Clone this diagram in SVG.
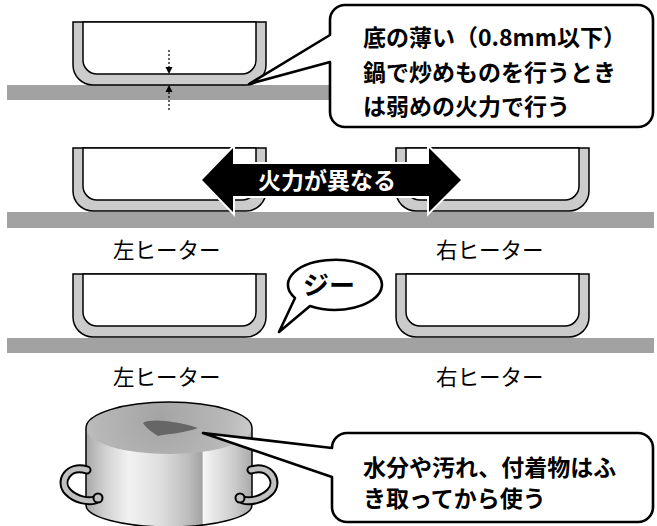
<svg xmlns="http://www.w3.org/2000/svg" width="657" height="526" viewBox="0 0 657 526">
  <style>
    .outline { fill: none; stroke: #000; stroke-width: 1.5; stroke-linejoin: round; }
    .bubble { fill: #fff; stroke: #000; stroke-width: 2.6; stroke-linejoin: round; }
    .note { font-family: "Noto Sans CJK JP", "Noto Sans", sans-serif; font-size: 23px; font-weight: 700; fill: #000; }
    .label { font-family: "Noto Sans CJK JP", "Noto Sans", sans-serif; font-size: 21.5px; font-weight: 400; fill: #000; }
    .strip { fill: #a2a2a2; }
    .dim { stroke: #000; stroke-width: 1.2; stroke-dasharray: 2 2; fill: none; }
    .handle-edge { fill: none; stroke: #000; stroke-width: 9; stroke-linecap: round; }
    .handle-core { fill: none; stroke: #c0c0c0; stroke-width: 5; stroke-linecap: round; }
  </style>
  <defs>
    <!-- pan cross-section, origin at outer top-left -->
    <g id="pan">
      <path d="M0,0 V43 A20,20 0 0 0 20,63 H173 A20,20 0 0 0 193,43 V0 Z" fill="#cbcbcb" stroke="#000" stroke-width="1.5"/>
      <path d="M10,0 V38 A14,14 0 0 0 24,52 H169 A14,14 0 0 0 183,38 V0 Z" fill="#fff" stroke="#000" stroke-width="1.5"/>
    </g>
    <linearGradient id="potBody" x1="86" y1="0" x2="252" y2="0" gradientUnits="userSpaceOnUse">
      <stop offset="0" stop-color="#a9a9a9"/>
      <stop offset="0.12" stop-color="#d2d2d2"/>
      <stop offset="0.26" stop-color="#f2f2f2"/>
      <stop offset="0.45" stop-color="#dedede"/>
      <stop offset="0.62" stop-color="#bcbcbc"/>
      <stop offset="0.7" stop-color="#a2a2a2"/>
      <stop offset="0.705" stop-color="#f6f6f6"/>
      <stop offset="0.78" stop-color="#e4e4e4"/>
      <stop offset="0.9" stop-color="#cacaca"/>
      <stop offset="1" stop-color="#a9a9a9"/>
    </linearGradient>
    <radialGradient id="potTop" cx="160" cy="418" r="95" gradientUnits="userSpaceOnUse">
      <stop offset="0" stop-color="#a4a4a4"/>
      <stop offset="0.7" stop-color="#b8b8b8"/>
      <stop offset="1" stop-color="#cdcdcd"/>
    </radialGradient>
    <clipPath id="potClip">
      <path d="M86,428 A83,26 0 0 1 252,428 V505 A83,22 0 0 1 86,505 Z"/>
    </clipPath>
  </defs>

  <!-- hob surfaces -->
  <g id="hobs">
    <rect class="strip" x="7" y="85" width="647" height="15"/>
    <rect class="strip" x="7" y="212" width="647" height="16"/>
    <rect class="strip" x="7" y="338" width="647" height="15"/>
  </g>

  <!-- thin pan with thickness marks -->
  <g id="pan-thin">
    <use href="#pan" x="73" y="22"/>
    <line class="dim" x1="169" y1="50" x2="169" y2="67"/>
    <path d="M165.5,67 L172.5,67 L169,74 Z" fill="#000"/>
    <line class="dim" x1="169" y1="92" x2="169" y2="110"/>
    <path d="M165.5,92 L172.5,92 L169,85 Z" fill="#000"/>
  </g>

  <g id="pan-left-1"><use href="#pan" x="73" y="148"/></g>
  <g id="pan-right-1"><use href="#pan" x="396" y="148"/></g>
  <g id="pan-left-2"><use href="#pan" x="73" y="274"/></g>
  <g id="pan-right-2"><use href="#pan" x="396" y="274"/></g>

  <!-- heater labels -->
  <g id="labels">
    <text class="label" x="113" y="258">左ヒーター</text>
    <text class="label" x="436" y="258">右ヒーター</text>
    <text class="label" x="113" y="385">左ヒーター</text>
    <text class="label" x="436" y="385">右ヒーター</text>
  </g>

  <!-- double arrow between heaters -->
  <g id="power-arrow">
    <path d="M202,180 L233,148 V164 H429 V148 L461,180 L429,212 V196 H233 V212 Z" fill="#000" stroke="#fff" stroke-width="4" paint-order="stroke"/>
    <text class="note" x="258" y="189" style="fill:#fff">火力が異なる</text>
  </g>

  <!-- pot -->
  <g id="pot">
    <path d="M86,428 A83,26 0 0 1 252,428 V505 A83,22 0 0 1 86,505 Z" fill="url(#potBody)"/>
    <g clip-path="url(#potClip)">
      <ellipse cx="169" cy="428" rx="83" ry="26" fill="url(#potTop)"/>
    </g>
    <path d="M86,428 A83,26 0 0 1 252,428 V505 A83,22 0 0 1 86,505 Z" class="outline"/>
    <g id="handles">
      <path class="handle-edge" d="M87,470 C68,464 58,482 68,492 C76,500 88,502 95,500"/>
      <path class="handle-core" d="M87,470 C68,464 58,482 68,492 C76,500 88,502 95,500"/>
      <circle cx="98" cy="498" r="4.5" fill="#c0c0c0" stroke="#000" stroke-width="2"/>
      <path class="handle-edge" d="M251,470 C270,464 280,482 270,492 C262,500 250,502 243,500"/>
      <path class="handle-core" d="M251,470 C270,464 280,482 270,492 C262,500 250,502 243,500"/>
      <circle cx="240" cy="498" r="4.5" fill="#c0c0c0" stroke="#000" stroke-width="2"/>
    </g>
    <path id="stain" d="M143,423 C151,418 176,421 198,428 C185,433 166,434 158,436 C152,432 146,428 143,423 Z" fill="#666"/>
  </g>

  <!-- sizzle bubble -->
  <g id="sizzle">
    <path class="bubble" d="M310,306 A47,25 0 1 0 295,298 L279,332 Z"/>
    <text x="303" y="295" style="font-family:'Noto Sans CJK JP','Noto Sans',sans-serif;font-size:26px;font-weight:700">ジー</text>
  </g>

  <!-- callouts -->
  <g id="callout-thin">
    <path class="bubble" d="M330,35 V20 A15,15 0 0 1 345,5 H638 A15,15 0 0 1 653,20 V112 A15,15 0 0 1 638,127 H345 A15,15 0 0 1 330,112 V62 L249,84 Z"/>
    <text class="note" x="363" y="46">底の薄い（0.8mm以下）</text>
    <text class="note" x="363" y="81">鍋で炒めものを行うとき</text>
    <text class="note" x="363" y="115">は弱めの火力で行う</text>
  </g>

  <g id="callout-clean">
    <path class="bubble" d="M332,448 A15,15 0 0 1 347,433 H638 A15,15 0 0 1 653,448 V507 A15,15 0 0 1 638,522 H347 A15,15 0 0 1 332,507 V477 L203,433 Z"/>
    <text class="note" x="363" y="476">水分や汚れ、付着物はふ</text>
    <text class="note" x="363" y="507">き取ってから使う</text>
  </g>
</svg>
